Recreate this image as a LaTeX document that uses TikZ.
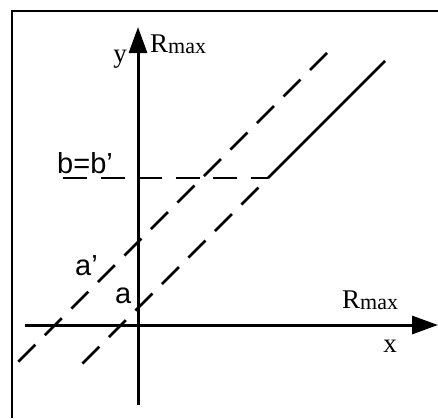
\documentclass[tikz,border=0pt]{standalone}
\usepackage{fontspec}
\setmainfont{Liberation Serif}
\setsansfont{Liberation Sans}
\usetikzlibrary{arrows.meta}

\newcommand{\rmaxtext}{R\raisebox{-1.5pt}{\fontsize{22}{22}\selectfont max}}

\begin{document}
\begin{tikzpicture}[x=1pt, y=-1pt,
        % --- Styles for the lines ---
        frame/.style={line width=1.6pt},
        axis/.style={line width=3pt, -{Triangle[length=26pt, width=18pt]}},
        dashline/.style={line width=2.8pt, dash pattern=on 24pt off 13.5pt},
        solidline/.style={line width=2.6pt},
        % --- Styles for the labels ---
        serif_lbl/.style={font=\fontsize{27}{29}\selectfont, inner sep=0pt},
        sans_lbl/.style={font=\sffamily\fontsize{29}{31}\selectfont, inner sep=0pt}
    ]

    \useasboundingbox (0,0) rectangle (438,418);

    % --- Frame ---
    \draw[frame] (12,418) -- (12,11) -- (438,11);

    % --- Key points ---
    \coordinate (ystart) at (138,405);
    \coordinate (yend) at (138,27);
    \coordinate (xstart) at (25,325);
    \coordinate (xend) at (438,325);
    \coordinate (bstart) at (63,178);
    \coordinate (P) at (268,178);
    \coordinate (Q) at (385,61);
    \coordinate (aend) at (78,368);
    \coordinate (aptop) at (327,53);
    \coordinate (apbot) at (18,362);

    % --- Dashed lines ---
    \draw[dashline] (bstart) -- (P);
    \draw[dashline, dash phase=24pt] (P) -- (aend);
    \draw[dashline] (aptop) -- (apbot);

    % --- Solid line ---
    \draw[solidline] (P) -- (Q);

    % --- Axes ---
    \draw[axis] (ystart) -- (yend);
    \draw[axis] (xstart) -- (xend);

    % --- Labels ---
    \node[serif_lbl, anchor=base] (ylbl) at (120,62) {y};
    \node[serif_lbl, anchor=base west] (rmaxy) at (150,52) {\rmaxtext};
    \node[serif_lbl, anchor=base west] (rmaxx) at (342,308) {\rmaxtext};
    \node[serif_lbl, anchor=base] (xlbl) at (390,352) {x};
    \node[sans_lbl, anchor=base west] (blbl) at (57,173) {b=b’};
    \node[sans_lbl, anchor=base west] (aplbl) at (75,275) {a’};
    \node[sans_lbl, anchor=base west] (albl) at (115,303) {a};

\end{tikzpicture}
\end{document}
